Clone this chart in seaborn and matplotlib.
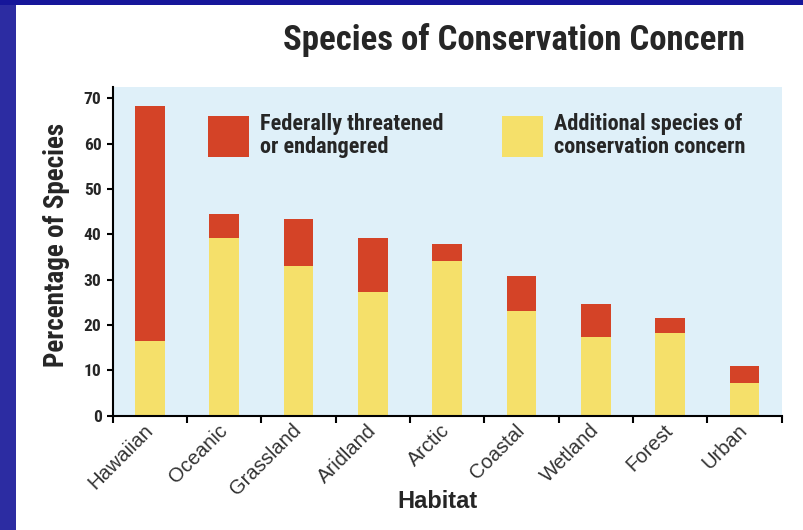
import matplotlib
matplotlib.use("Agg")
import matplotlib.pyplot as plt
from matplotlib.patches import Rectangle, Patch
import seaborn as sns
import pandas as pd

# Habitat categories and percentages of species
habitats = ["Hawaiian", "Oceanic", "Grassland", "Aridland", "Arctic",
            "Coastal", "Wetland", "Forest", "Urban"]
threatened = [51.8, 5.4, 10.3, 11.9, 3.8, 7.6, 7.3, 3.3, 3.9]
additional = [16.5, 39.2, 33.0, 27.3, 34.1, 23.2, 17.3, 18.2, 7.1]
y_ticks = [0, 10, 20, 30, 40, 50, 60, 70]

RED = "#d44327"
YELLOW = "#f5e06a"
PANEL = "#dff0f9"
INK = "#262626"

sns.set_theme(style="white")
plt.rcParams["font.family"] = ["Liberation Sans", "DejaVu Sans"]
COND = ["Roboto Condensed", "Liberation Sans", "DejaVu Sans"]

df = pd.DataFrame({
    "Habitat": habitats,
    "Threatened": threatened,
    "Additional": additional,
})
df["Total"] = df["Threatened"] + df["Additional"]

fig = plt.figure(figsize=(8.04, 5.30), dpi=100, facecolor="white")

# dark blue slide frame on the left and top edges
fig.patches.append(Rectangle((0, 0), 16 / 804, 1, transform=fig.transFigure,
                             facecolor="#2c2ca2", edgecolor="none", zorder=0))
fig.patches.append(Rectangle((0, 1 - 5 / 530), 1, 5 / 530, transform=fig.transFigure,
                             facecolor="#16169a", edgecolor="none", zorder=0))

ax = fig.add_axes([0.1402, 0.2157, 0.8321, 0.6201])
ax.set_facecolor(PANEL)

# stacked bars: full height in red, additional species in yellow on top
sns.barplot(data=df, x="Habitat", y="Total", color=RED, width=0.4,
            saturation=1, ax=ax, linewidth=0)
sns.barplot(data=df, x="Habitat", y="Additional", color=YELLOW, width=0.4,
            saturation=1, ax=ax, linewidth=0)

ax.set_xlim(-0.5, len(habitats) - 0.5)
ax.set_ylim(0, 72.5)
ax.set_yticks(y_ticks)
ax.set_yticklabels([str(v) for v in y_ticks], fontsize=12.5, fontweight="bold",
                   color=INK, family=COND)

# x ticks sit on the category boundaries, labels at bar centres
ax.set_xticks([i - 0.5 for i in range(len(habitats) + 1)])
ax.set_xticklabels([])
ax.set_xticks(range(len(habitats)), minor=True)
ax.set_xticklabels(habitats, minor=True, rotation=45, ha="right", va="center",
                   rotation_mode="anchor", fontsize=14.5, color="#333333")
ax.tick_params(axis="x", which="minor", length=0, pad=8.5)
ax.tick_params(axis="x", which="major", length=5, width=1.5, color="black",
               direction="out", bottom=True)
ax.tick_params(axis="y", length=4, width=1.5, color="black", direction="out",
               left=True, pad=4)

for side in ("top", "right"):
    ax.spines[side].set_visible(False)
for side in ("left", "bottom"):
    ax.spines[side].set_color("black")
    ax.spines[side].set_linewidth(1.5)

ax.set_xlabel("Habitat", fontsize=17, fontweight="bold", color=INK)
ax.xaxis.set_label_coords(0.4855, -0.226)
ax.set_ylabel("Percentage of Species", fontsize=19.5, fontweight="bold",
              color=INK, family=COND)
ax.yaxis.set_label_coords(-0.064, 0.52)

legend_kw = dict(loc="upper left", frameon=False, borderpad=0, borderaxespad=0,
                 handlelength=1.85, handleheight=2.46, handletextpad=0.5,
                 labelspacing=0, prop={"size": 16, "weight": "bold", "family": COND},
                 labelcolor=INK)
leg1 = ax.legend([Patch(facecolor=RED, edgecolor="none")],
                 ["Federally threatened\nor endangered"],
                 bbox_to_anchor=(0.1425, 0.922), **legend_kw)
ax.add_artist(leg1)
leg2 = ax.legend([Patch(facecolor=YELLOW, edgecolor="none")],
                 ["Additional species of\nconservation concern"],
                 bbox_to_anchor=(0.582, 0.922), **legend_kw)
for leg in (leg1, leg2):
    for t in leg.get_texts():
        t.set_linespacing(1.05)

fig.text(0.639, 0.9245, "Species of Conservation Concern", ha="center",
         va="center", fontsize=25, fontweight="bold", color=INK, family=COND)

fig.savefig("out.png", dpi=100, facecolor="white")
